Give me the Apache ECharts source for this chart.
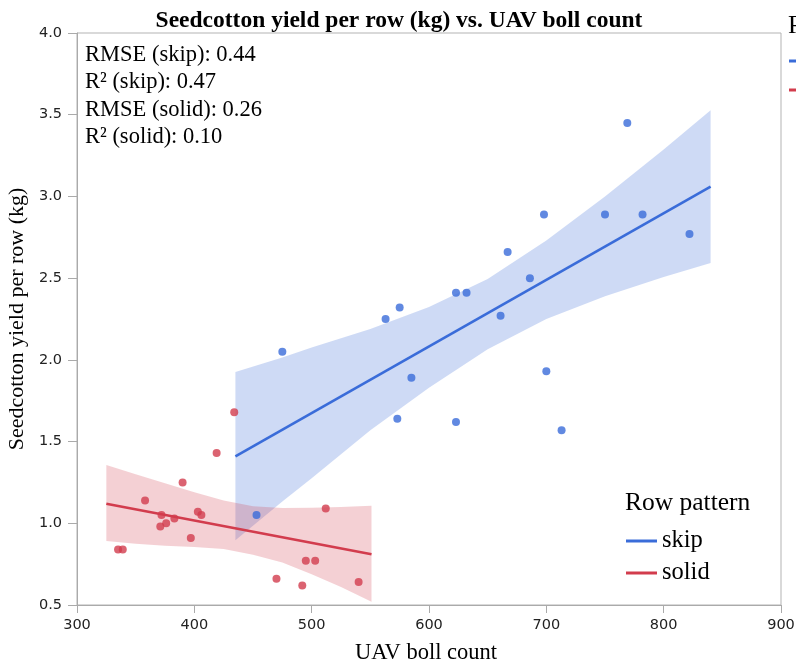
<!DOCTYPE html>
<html><head><meta charset="utf-8">
<script src="https://cdn.jsdelivr.net/npm/echarts@6/dist/echarts.min.js"></script>
<style>html,body{margin:0;padding:0;background:#fff}#c{width:796px;height:666px}</style>
</head><body><div id="c"></div>
<script>
// ---- data ----
const skipX = [769, 698, 750, 782, 822, 667, 686, 623, 632, 475, 563, 575, 661, 585, 700, 573, 623, 713, 453];
const skipY = [3.45, 2.89, 2.89, 2.89, 2.77, 2.66, 2.50, 2.41, 2.41, 2.05, 2.25, 2.32, 2.27, 1.89, 1.93, 1.64, 1.62, 1.57, 1.05];
const solidX = [434, 419, 390, 358, 403, 406, 372, 383, 376, 371, 397, 335, 339, 512, 495, 503, 470, 492, 540];
const solidY = [1.68, 1.43, 1.25, 1.14, 1.07, 1.05, 1.05, 1.03, 1.00, 0.98, 0.91, 0.84, 0.84, 1.09, 0.77, 0.77, 0.66, 0.62, 0.64];

const skipFitX = [435, 840];
const skipFitY = [1.41, 3.06];
const solidFitX = [325, 551];
const solidFitY = [1.12, 0.81];

const skipBandX = [435, 475, 500, 550, 600, 650, 700, 750, 800, 840];
const skipBandHigh = [1.926, 2.014, 2.076, 2.189, 2.323, 2.495, 2.730, 2.999, 3.287, 3.527];
const skipBandLow = [0.896, 1.134, 1.276, 1.569, 1.830, 2.065, 2.250, 2.389, 2.507, 2.593];
const solidBandX = [325, 350, 375, 400, 425, 450, 475, 500, 525, 551];
const solidBandHigh = [1.356, 1.300, 1.245, 1.190, 1.140, 1.105, 1.093, 1.095, 1.100, 1.107];
const solidBandLow = [0.891, 0.875, 0.862, 0.855, 0.842, 0.808, 0.760, 0.688, 0.610, 0.520];

const groups = ['skip', 'solid'];
const statsLines = ['RMSE (skip): 0.44', 'R\u00B2 (skip): 0.47', 'RMSE (solid): 0.26', 'R\u00B2 (solid): 0.10'];
const titleText = 'Seedcotton yield per row (kg) vs. UAV boll count';
const xName = 'UAV boll count';
const yName = 'Seedcotton yield per row (kg)';
const legendTitle = 'Row pattern';

// ---- styling ----
const BLUE = '#3a6cd9';
const RED = '#d23c4d';
const SERIF = '"Liberation Serif", "Times New Roman", serif';
const SANS = '"DejaVu Sans", sans-serif';

function zip(xs, ys) { return xs.map((x, i) => [x, ys[i]]); }

function band(name, xs, hi, lo, fill) {
  return {
    type: 'custom', name: name, silent: true,
    data: [[xs[0], hi[0]]],
    renderItem: function (params, api) {
      const pts = xs.map((x, i) => api.coord([x, hi[i]]));
      for (let i = xs.length - 1; i >= 0; i--) pts.push(api.coord([xs[i], lo[i]]));
      return { type: 'polygon', shape: { points: pts }, style: { fill: fill } };
    }
  };
}

const chart = echarts.init(document.getElementById('c'), null, { renderer: 'canvas' });
chart.setOption({
  animation: false,
  backgroundColor: '#fff',
  title: {
    text: titleText, left: 394, top: 4, textAlign: 'center',
    textStyle: { fontFamily: SERIF, fontSize: 23.5, fontWeight: 'bold', color: '#000' }
  },
  grid: { left: 77, right: 15, top: 33, bottom: 61, show: true, borderColor: '#b3b3b3', borderWidth: 1,
          containLabel: false, outerBoundsMode: 'none' },
  xAxis: {
    type: 'value', min: 300, max: 900, interval: 100,
    name: xName, nameLocation: 'middle', nameGap: 37,
    nameTextStyle: { fontFamily: SERIF, fontSize: 22.5, color: '#000', padding: [0, 6, 0, 0] },
    axisLine: { show: true, lineStyle: { color: '#aaa' } },
    axisTick: { show: true, length: 8, lineStyle: { color: '#aaa' } },
    axisLabel: { margin: 13, fontFamily: SANS, fontSize: 14.5, color: '#222' },
    splitLine: { show: false }
  },
  yAxis: {
    type: 'value', min: 0.5, max: 4.0, interval: 0.5,
    name: yName, nameLocation: 'middle', nameGap: 48, nameRotate: 90,
    nameTextStyle: { fontFamily: SERIF, fontSize: 22, color: '#000' },
    axisLine: { show: true, lineStyle: { color: '#aaa' } },
    axisTick: { show: true, length: 9, lineStyle: { color: '#aaa' } },
    axisLabel: { margin: 15, fontFamily: SANS, fontSize: 14.5, color: '#222', formatter: v => v.toFixed(1) },
    splitLine: { show: false }
  },
  legend: [{
    data: groups, orient: 'vertical', left: 626, top: 528, padding: 0,
    icon: 'rect', itemWidth: 31, itemHeight: 3, itemGap: 6,
    textStyle: { fontFamily: SERIF, fontSize: 24.5, color: '#000', lineHeight: 26 },
    selectedMode: false
  }],
  graphic: [
    { type: 'text', left: 85, top: 41, silent: true,
      style: { text: statsLines.join('\n'), font: '22.5px ' + SERIF, fill: '#000', lineHeight: 27.5 } },
    { type: 'text', left: 625, top: 490, silent: true,
      style: { text: legendTitle, font: '25.5px ' + SERIF, fill: '#000' } },
    // second legend of the original figure, cut off by the right edge
    { type: 'text', left: 788, top: 13, silent: true,
      style: { text: legendTitle, font: '25.5px ' + SERIF, fill: '#000' } },
    { type: 'rect', shape: { x: 789, y: 59.5, width: 31, height: 3 }, style: { fill: BLUE }, silent: true },
    { type: 'rect', shape: { x: 789, y: 88.5, width: 31, height: 3 }, style: { fill: RED }, silent: true }
  ],
  series: [
    { type: 'scatter', name: 'skip points', data: zip(skipX, skipY), symbolSize: 8,
      itemStyle: { color: BLUE }, silent: true },
    { type: 'scatter', name: 'solid points', data: zip(solidX, solidY), symbolSize: 8,
      itemStyle: { color: RED }, silent: true },
    band('skip band', skipBandX, skipBandHigh, skipBandLow, 'rgba(58,108,217,0.25)'),
    { type: 'line', name: 'skip', data: zip(skipFitX, skipFitY), showSymbol: false, symbol: 'none',
      lineStyle: { color: BLUE, width: 2.6 }, itemStyle: { color: BLUE }, silent: true },
    band('solid band', solidBandX, solidBandHigh, solidBandLow, 'rgba(210,60,77,0.24)'),
    { type: 'line', name: 'solid', data: zip(solidFitX, solidFitY), showSymbol: false, symbol: 'none',
      lineStyle: { color: RED, width: 2.6 }, itemStyle: { color: RED }, silent: true }
  ]
});
</script>
</body></html>
